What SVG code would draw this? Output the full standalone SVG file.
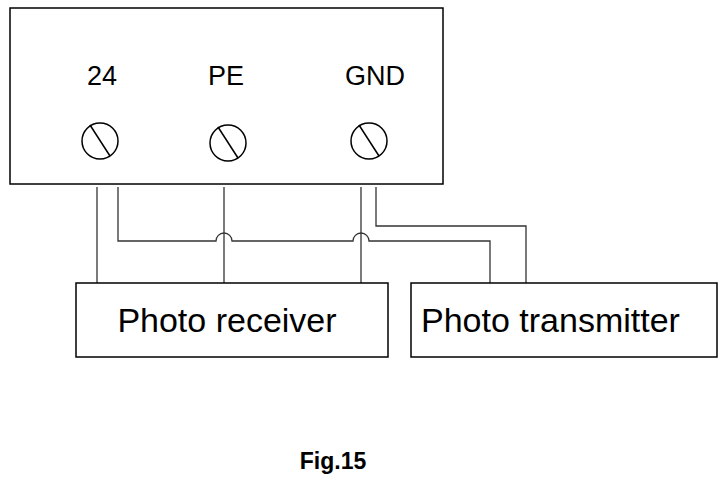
<svg xmlns="http://www.w3.org/2000/svg" width="727" height="481" viewBox="0 0 727 481">
<style>
.b{fill:#fff;stroke:#000;stroke-width:1.5}
.w{fill:none;stroke:#333;stroke-width:1.3}
.t{font-family:"Liberation Sans",Arial,sans-serif;fill:#000}
</style>
<rect width="727" height="481" fill="#fff"/>
<g id="terminal">
<rect class="b" x="10" y="8" width="433" height="176"/>
<text class="t" x="102" y="85" font-size="27" text-anchor="middle">24</text>
<text class="t" x="226" y="85" font-size="27" text-anchor="middle">PE</text>
<text class="t" x="375" y="85" font-size="27" text-anchor="middle">GND</text>
<circle class="b" cx="100" cy="141" r="18"/><line class="b" x1="90" y1="125" x2="110" y2="156"/>
<circle class="b" cx="228" cy="143" r="18"/><line class="b" x1="218" y1="127" x2="238" y2="158"/>
<circle class="b" cx="369" cy="141" r="18"/><line class="b" x1="359" y1="125" x2="379" y2="156"/>
</g>
<g id="connectors">
<path class="w" d="M97 187V283"/>
<path class="w" d="M224 187V283"/>
<path class="w" d="M361 187V283"/>
<path class="w" d="M118 187V241H216A8 8 0 0 1 232 241H353A8 8 0 0 1 369 241H490V283"/>
<path class="w" d="M376 187V226H526V283"/>
</g>
<g id="receiver">
<rect class="b" x="76" y="283" width="312" height="74"/>
<text class="t" x="227" y="332" font-size="34" text-anchor="middle">Photo receiver</text>
</g>
<g id="transmitter">
<rect class="b" x="411" y="283" width="306" height="74"/>
<text class="t" x="421" y="332" font-size="34">Photo transmitter</text>
</g>
<text class="t" x="333" y="469" font-size="23" font-weight="bold" text-anchor="middle">Fig.15</text>
</svg>
